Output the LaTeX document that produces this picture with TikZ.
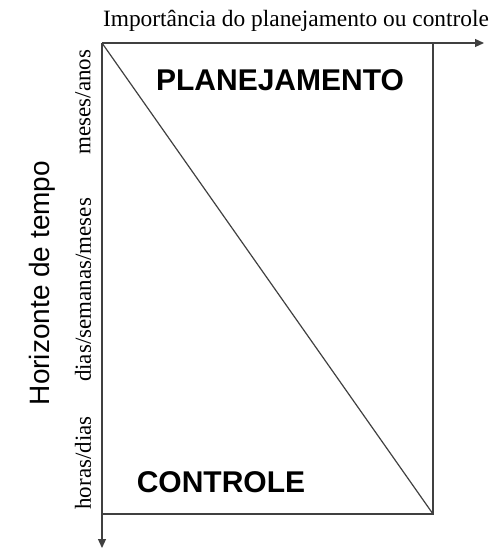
\documentclass[tikz,border=0pt]{standalone}
\usepackage{fontspec}
\setmainfont{Liberation Serif}
\setsansfont{Liberation Sans}
\usetikzlibrary{arrows.meta}
\begin{document}
\begin{tikzpicture}[x=1pt,y=-1pt,
  ln/.style={draw=black!75,line width=1.2pt},
  axis/.style={ln,-{Triangle[length=9pt,width=8pt]}},
  serif/.style={font=\fontsize{23}{25}\selectfont\rmfamily,inner sep=0pt},
  title/.style={font=\fontsize{23.4}{25}\selectfont\rmfamily,inner sep=0pt},
  big/.style={font=\fontsize{30}{32}\selectfont\sffamily\bfseries,inner sep=0pt},
  side/.style={font=\fontsize{28}{30}\selectfont\sffamily,inner sep=0pt,rotate=90}]
\useasboundingbox (0,0) rectangle (492,554);
\coordinate (tl) at (102,43);
\coordinate (tr) at (433,43);
\coordinate (br) at (433,514);
\coordinate (bl) at (102,514);
\coordinate (xend) at (484,43);
\coordinate (yend) at (102,548);
\draw[ln] (tr) -- (br) -- (bl);
\draw[ln] (tl) -- (br);
\draw[axis] (tl) -- (xend);
\draw[axis] (tl) -- (yend);
\node[title] (ttl) at (296,21) {Importância do planejamento ou controle};
\node[big] (plan) at (280,80) {PLANEJAMENTO};
\node[big] (ctrl) at (221,482) {CONTROLE};
\node[side] (hz) at (42,283) {Horizonte de tempo};
\node[serif,rotate=90] (l1) at (83,102) {meses/anos};
\node[serif,rotate=90] (l2) at (83,290) {dias/semanas/meses};
\node[serif,rotate=90] (l3) at (83,463) {horas/dias};
\end{tikzpicture}
\end{document}
